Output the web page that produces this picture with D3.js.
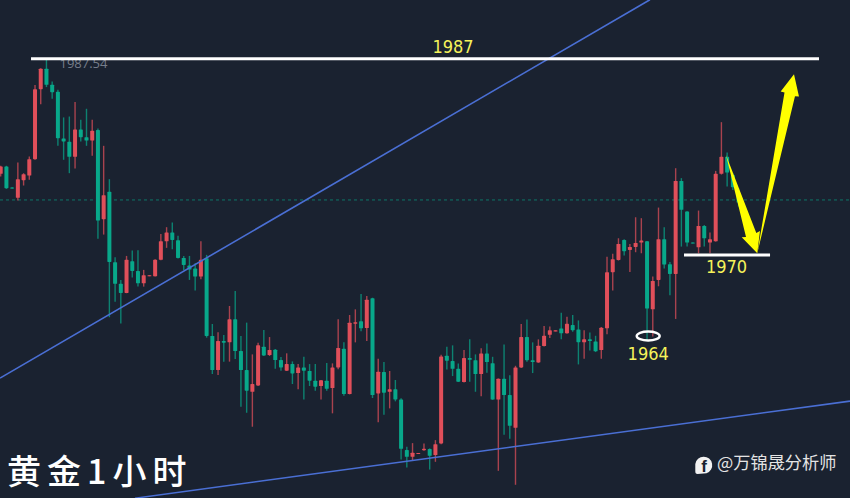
<!DOCTYPE html>
<html>
<head>
<meta charset="utf-8">
<script src="https://cdn.jsdelivr.net/npm/d3@7"></script>
<style>
  html, body { margin: 0; padding: 0; background: #1a2230; overflow: hidden; }
  svg { display: block; }
</style>
</head>
<body>
<div id="chart"></div>
<script>
// ── Candles (one hour gold) ────────────────────────────────────────────────
const opens = [
  1977.03,1977.67,1975.85,1974.95,1976.48,1976.89,1978.30,1984.37,1986.14,1984.75,
  1984.14,1980.10,1979.81,1978.51,1980.88,1980.21,1979.92,1980.82,1973.10,1975.47,
  1969.37,1967.50,1966.71,1969.46,1968.62,1967.55,1968.16,1968.16,1969.58,1971.19,
  1971.95,1971.28,1969.75,1969.08,1968.82,1968.13,1969.72,1962.98,1960.03,1962.55,
  1962.43,1964.43,1961.68,1960.03,1958.15,1958.70,1962.06,1961.33,1961.80,1960.90,
  1959.98,1960.55,1959.77,1960.26,1959.95,1959.11,1958.65,1959.11,1958.47,1960.26,
  1961.88,1957.95,1964.05,1964.25,1963.67,1966.25,1958.01,1959.86,1958.15,1958.36,
  1957.49,1953.10,1952.52,1952.78,1953.09,1953.18,1952.66,1953.67,1961.27,1960.81,
  1960.14,1958.99,1961.07,1960.89,1959.68,1961.47,1960.63,1957.48,1959.28,1957.86,
  1955.03,1960.26,1962.89,1960.89,1960.69,1962.11,1963.09,1963.38,1963.64,1963.21,
  1963.93,1963.55,1962.43,1962.69,1962.51,1961.76,1963.65,1968.51,1969.57,1971.31,
  1970.44,1970.70,1971.08,1971.19,1965.30,1967.84,1971.37,1969.20,1968.36,1976.42,
  1973.77,1971.08,1970.67,1972.52,1971.08,1971.19,1977.03,1978.51,1976.94,1975.07
];
const highs = [
  1977.73,1977.73,1975.88,1978.01,1977.09,1978.53,1984.72,1986.19,1987.06,1985.04,
  1984.31,1981.92,1982.00,1983.25,1981.71,1982.67,1981.71,1980.96,1979.46,1976.57,
  1969.81,1967.84,1969.92,1970.39,1970.41,1968.71,1968.25,1969.63,1971.83,1972.41,
  1972.81,1971.66,1969.92,1969.92,1969.29,1971.19,1970.01,1964.02,1963.30,1963.07,
  1965.58,1966.88,1962.98,1964.14,1961.39,1962.40,1963.50,1962.89,1961.85,1961.16,
  1961.48,1960.78,1960.55,1961.19,1960.55,1960.55,1959.17,1960.64,1960.61,1964.43,
  1962.43,1964.80,1965.29,1966.62,1966.45,1966.30,1961.02,1960.73,1959.95,1959.17,
  1957.58,1953.39,1953.70,1952.84,1953.67,1953.24,1953.96,1961.36,1962.05,1962.17,
  1960.60,1961.76,1962.69,1961.39,1961.91,1962.34,1961.18,1959.30,1962.25,1959.59,
  1960.40,1964.02,1964.42,1962.43,1962.69,1963.84,1963.81,1963.47,1965.00,1964.65,
  1964.80,1964.33,1963.47,1963.29,1963.00,1963.76,1969.84,1970.10,1971.45,1971.37,
  1970.96,1973.27,1973.19,1971.22,1968.13,1974.11,1972.41,1969.40,1977.52,1976.66,
  1973.79,1971.08,1973.85,1972.61,1971.94,1977.29,1981.51,1978.88,1977.09,1975.79
];
const lows = [
  1976.80,1975.73,1975.73,1974.72,1976.02,1976.51,1978.25,1983.07,1984.55,1983.53,
  1979.46,1978.25,1977.09,1977.49,1979.84,1979.46,1978.59,1971.40,1971.77,1964.61,
  1965.96,1964.06,1966.69,1968.04,1967.26,1967.26,1968.16,1968.13,1969.55,1970.62,
  1970.50,1969.69,1968.71,1967.84,1966.92,1967.90,1962.84,1959.69,1959.60,1960.76,
  1960.76,1960.99,1956.85,1956.33,1955.12,1958.65,1961.25,1961.25,1960.15,1959.98,
  1959.95,1958.82,1958.36,1957.49,1958.65,1958.24,1957.49,1958.24,1956.28,1960.09,
  1957.81,1957.92,1962.43,1963.39,1962.55,1957.61,1955.50,1956.16,1956.71,1957.32,
  1952.29,1951.59,1952.23,1952.78,1953.03,1951.41,1952.08,1953.61,1960.08,1959.51,
  1958.99,1958.96,1959.02,1958.15,1957.77,1959.80,1957.45,1951.30,1954.42,1954.07,
  1950.09,1960.20,1960.75,1959.77,1960.66,1962.08,1962.80,1963.38,1962.71,1963.18,
  1963.35,1960.52,1961.01,1961.73,1961.59,1961.01,1963.13,1966.92,1969.52,1969.95,
  1968.53,1970.24,1970.15,1962.64,1962.93,1967.29,1968.82,1966.51,1964.46,1970.73,
  1970.73,1970.99,1970.15,1970.73,1970.15,1971.16,1976.97,1975.93,1975.64,1974.20
];
const closes = [
  1977.67,1975.79,1975.76,1976.57,1977.00,1978.30,1984.37,1986.14,1984.75,1984.11,
  1980.12,1979.84,1978.51,1980.88,1980.21,1979.92,1980.76,1972.99,1975.18,1969.40,
  1967.50,1966.71,1969.58,1968.62,1967.55,1968.25,1968.25,1969.58,1971.19,1971.95,
  1971.31,1969.75,1969.14,1968.74,1968.13,1969.58,1962.99,1960.03,1962.55,1962.40,
  1964.43,1961.68,1960.03,1958.24,1958.82,1962.17,1961.30,1961.77,1960.90,1960.26,
  1960.55,1959.74,1960.26,1959.98,1959.11,1958.59,1959.14,1958.41,1960.26,1961.94,
  1957.95,1964.14,1964.17,1963.65,1966.13,1957.87,1959.89,1958.07,1958.36,1957.49,
  1953.21,1952.52,1952.87,1952.84,1953.21,1952.60,1953.61,1961.21,1960.84,1960.14,
  1959.02,1961.07,1960.92,1959.68,1961.47,1960.72,1957.48,1959.28,1957.86,1955.20,
  1960.26,1962.89,1960.89,1960.72,1962.14,1963.00,1963.47,1963.47,1963.21,1964.04,
  1963.49,1962.45,1962.69,1962.54,1961.65,1963.70,1968.51,1969.63,1970.96,1970.33,
  1970.70,1971.05,1971.25,1965.36,1967.75,1971.37,1969.17,1968.36,1976.42,1973.91,
  1971.08,1970.99,1972.52,1971.45,1971.37,1977.03,1978.51,1977.15,1975.88,1974.55
];

// ── Drawn-on annotations, in [candle index, price] ─────────────────────────
const lastPrice = 1974.77;
const highLabel = "1987.54";
const trendUpper = [[-0.12, 1959.33], [113.5, 1992.12]];
const trendLower = [[23.48, 1948.93], [148.48, 1957.34]];
const resistance = { from: 5.3, to: 143.06, price: 1987, label: "1987" };
const support = { from: 119.46, to: 134.5, price: 1970, label: "1970" };
const lowMark = { index: 113.2, price: 1962.98, label: "1964" };
const arrowDown = [[126.8, 1978.67], [132.1, 1971.91], [132.74, 1972.08], [132.27, 1970.15], [129.55, 1971.54], [130.3, 1971.56]];
const arrowUp = [[132.27, 1970.15], [137.03, 1984.08], [136.36, 1984.16], [138.69, 1985.67], [139.56, 1983.73], [138.86, 1983.76]];
const titleText = "黄金1小时";
const brandText = "@万锦晟分析师";

// ── Colours ────────────────────────────────────────────────────────────────
const UP = "#e04f5a";
const DOWN = "#08a88a";
const BLUE = "#4a6fd4";
const NOTE = "#f6f35a";

// ── Dimensions and scales ──────────────────────────────────────────────────
const width = 850;
const height = 498;

const x = d3.scaleLinear().domain([0, 148.48]).range([0.7, 850]);
const y = d3.scaleLinear().domain([1987, 1970]).range([58.8, 255]);

const svg = d3.select("#chart").append("svg")
  .attr("width", width)
  .attr("height", height);

svg.append("rect").attr("width", width).attr("height", height).attr("fill", "#1a2230");

// last price line
svg.append("line")
  .attr("x1", 0).attr("x2", width)
  .attr("y1", y(lastPrice)).attr("y2", y(lastPrice))
  .attr("stroke", "#0e7567")
  .attr("stroke-width", 1)
  .attr("stroke-dasharray", "3,3");

// ── Candles ────────────────────────────────────────────────────────────────
const candle = svg.append("g").selectAll("g")
  .data(opens.map((o, i) => ({ i, o, h: highs[i], l: lows[i], c: closes[i] })))
  .join("g");

candle.append("line")
  .attr("x1", d => x(d.i)).attr("x2", d => x(d.i))
  .attr("y1", d => y(d.h)).attr("y2", d => y(d.l))
  .attr("stroke", d => d.c >= d.o ? UP : DOWN)
  .attr("stroke-opacity", 0.72)
  .attr("stroke-width", 1.4);

candle.append("rect")
  .attr("x", d => x(d.i) - 2)
  .attr("width", 4)
  .attr("y", d => y(Math.max(d.o, d.c)))
  .attr("height", d => Math.max(1, Math.abs(y(d.o) - y(d.c))))
  .attr("rx", 0.6)
  .attr("fill", d => d.c >= d.o ? UP : DOWN);

// high label sits under the white line
svg.append("text")
  .attr("x", x(8) + 13).attr("y", y(1987) + 9)
  .attr("font-family", "'Open Sans', sans-serif")
  .attr("font-size", 13)
  .attr("fill", "#767d8a")
  .text(highLabel);

// ── Trend lines ────────────────────────────────────────────────────────────
const pathLine = d3.line().x(d => x(d[0])).y(d => y(d[1]));

svg.selectAll(".trend")
  .data([trendUpper, trendLower])
  .join("path")
  .attr("class", "trend")
  .attr("d", pathLine)
  .attr("fill", "none")
  .attr("stroke", BLUE)
  .attr("stroke-width", 1.6);

// ── Levels ─────────────────────────────────────────────────────────────────
svg.selectAll(".level")
  .data([resistance, support])
  .join("line")
  .attr("class", "level")
  .attr("x1", d => x(d.from)).attr("x2", d => x(d.to))
  .attr("y1", d => y(d.price)).attr("y2", d => y(d.price))
  .attr("stroke", "#ffffff")
  .attr("stroke-width", 3);

// ── Arrows ─────────────────────────────────────────────────────────────────
svg.selectAll(".arrow")
  .data([arrowDown, arrowUp])
  .join("polygon")
  .attr("class", "arrow")
  .attr("points", d => d.map(p => [x(p[0]), y(p[1])].join(",")).join(" "))
  .attr("fill", "#ffff00");

// ── Low marker and notes ───────────────────────────────────────────────────
svg.append("ellipse")
  .attr("cx", x(lowMark.index)).attr("cy", y(lowMark.price))
  .attr("rx", 11.5).attr("ry", 4.5)
  .attr("fill", "none")
  .attr("stroke", "#ffffff")
  .attr("stroke-width", 2.4);

const notes = [
  { x: x(79.07), y: y(resistance.price) - 6, t: resistance.label },
  { x: x(126.9), y: y(support.price) + 18, t: support.label },
  { x: x(lowMark.index), y: y(lowMark.price) + 24, t: lowMark.label },
];

svg.selectAll(".note")
  .data(notes)
  .join("text")
  .attr("class", "note")
  .attr("x", d => d.x).attr("y", d => d.y)
  .attr("text-anchor", "middle")
  .attr("font-family", "'DejaVu Sans Condensed', 'DejaVu Sans', sans-serif")
  .attr("font-stretch", "condensed")
  .attr("font-size", 18)
  .attr("fill", NOTE)
  .text(d => d.t);

// ── Title and brand ────────────────────────────────────────────────────────
svg.append("text")
  .attr("x", 7).attr("y", 484)
  .attr("font-family", "'Noto Sans CJK SC', sans-serif")
  .attr("font-size", 34)
  .attr("font-weight", 500)
  .attr("letter-spacing", 6)
  .attr("fill", "#ffffff")
  .text(titleText);

const logo = svg.append("g").attr("transform", "translate(703.5,465)");
logo.append("path")
  .attr("d", "M-8.2,-1 A8.5,8.5 0 1 1 3,8.2 L-6,9 Q-8.4,9 -8.2,6 Z")
  .attr("fill", "#f2f2f2");
logo.append("text")
  .attr("x", 0.5).attr("y", 6.5)
  .attr("text-anchor", "middle")
  .attr("font-family", "'Liberation Sans', sans-serif")
  .attr("font-size", 17)
  .attr("font-weight", 700)
  .attr("fill", "#1a2230")
  .text("f");

svg.append("text")
  .attr("x", 717).attr("y", 469)
  .attr("font-family", "'Noto Sans CJK SC', sans-serif")
  .attr("font-size", 17.2)
  .attr("fill", "#e4e4e4")
  .text(brandText);
</script>
</body>
</html>
